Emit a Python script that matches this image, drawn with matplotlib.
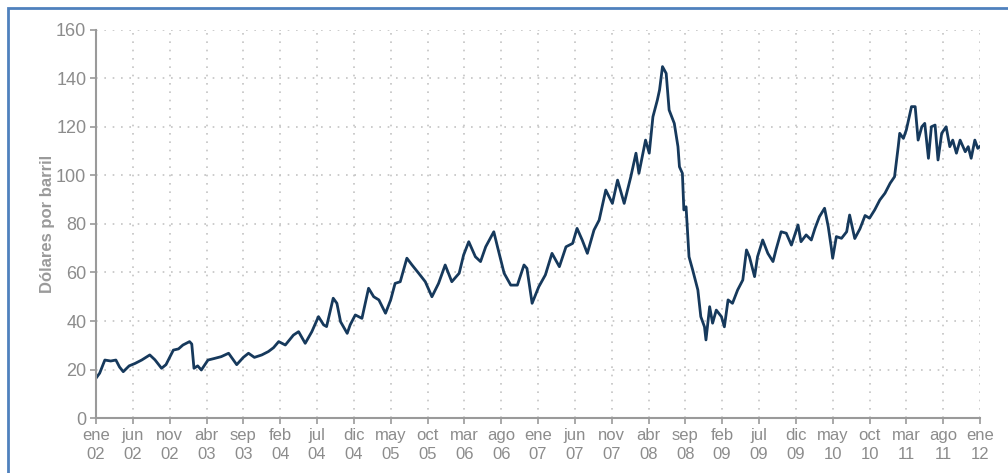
import matplotlib.pyplot as plt
from matplotlib.patches import Rectangle

# months since ene 2002
months = [0.0, 0.5, 1.2, 2.0, 2.7, 3.2, 3.7, 4.5, 5.3, 6.2, 7.3, 8.0, 8.9, 9.5, 10.5, 11.2, 11.8, 12.7, 13.0, 13.3,
          13.8, 14.3, 15.2, 16.0, 17.0, 18.0, 19.1, 20.0, 20.7, 21.5, 22.5, 23.4, 24.1, 24.8, 25.7,
          26.8, 27.5, 28.4, 29.3, 30.2, 30.9, 31.3, 32.2, 32.7, 33.2, 34.1, 34.5, 35.2, 36.1, 37.0, 37.7,
          38.4, 39.3, 40.0, 40.6, 41.3, 42.2, 42.9, 43.8, 44.7, 45.6, 46.5, 47.4, 48.3, 49.3, 49.9, 50.6,
          51.5, 52.2, 52.9, 54.0, 54.5, 55.4, 56.3, 57.2, 58.1, 58.5, 59.2, 60.1, 61.0, 61.9, 62.9, 63.8,
          64.7, 65.3, 66.0, 66.7, 67.6, 68.3, 69.2, 70.1, 70.8, 71.7, 72.6, 73.3, 73.7, 74.6, 75.1, 75.6,
          76.2, 76.5, 76.9, 77.4, 77.8, 78.5, 79.0, 79.2, 79.6, 79.8, 80.1, 80.5, 81.0, 81.7, 82.1, 82.6,
          82.8, 83.3, 83.7, 84.2, 84.9, 85.3, 85.8, 86.4, 87.1, 87.8, 88.3, 88.7, 89.4, 89.8, 90.5, 91.2,
          91.9, 92.3, 93.0, 93.7, 94.4, 95.3, 95.7, 96.4, 97.1, 97.6, 98.2, 98.9, 99.4, 99.8, 100.0, 100.5,
          101.2, 101.9, 102.3, 103.0, 103.7, 104.4, 105.0, 105.7, 106.4, 107.1, 107.8, 108.4, 108.9, 109.1,
          109.6, 110.0, 110.5, 110.7, 111.2, 111.6, 112.1, 112.5, 113.0, 113.4, 113.9, 114.3, 114.8, 115.4,
          115.9, 116.3, 116.8, 117.3, 118.0, 118.4, 118.8, 119.3, 119.7, 120.0]

prices = [16.4, 18.5, 23.9, 23.5, 23.9, 21.0, 19.1, 21.5, 22.5, 23.9, 26.0, 24.0, 20.5, 22.0, 28.0, 28.5, 30.1, 31.5, 30.5, 20.5,
          21.5, 19.8, 23.9, 24.5, 25.3, 26.7, 22.0, 25.0, 26.7, 25.0, 26.0, 27.4, 29.0, 31.5, 30.1,
          34.2, 35.6, 30.8, 35.6, 41.8, 38.4, 37.7, 49.4, 47.3, 39.7, 34.9, 38.4, 42.5, 41.1, 53.5, 50.0,
          48.7, 43.2, 48.7, 55.5, 56.2, 65.9, 63.1, 59.7, 56.2, 50.0, 55.5, 63.1, 56.2, 59.7, 67.2, 72.7,
          66.5, 64.5, 70.6, 76.8, 70.6, 59.7, 54.8, 54.8, 63.1, 61.7, 47.3, 54.1, 59.0, 67.9, 62.4, 70.6,
          72.0, 78.2, 73.4, 67.9, 77.5, 81.6, 94.0, 88.5, 98.1, 88.5, 99.5, 109.2, 100.9, 114.6, 109.2, 124.2,
          131.1, 135.3, 144.9, 142.1, 127.0, 121.5, 111.9, 103.6, 100.9, 85.8, 87.1, 66.5, 61.0, 52.8, 41.8, 37.6,
          32.2, 45.9, 39.1, 44.5, 41.8, 37.6, 48.7, 47.3, 52.8, 56.9, 69.3, 66.5, 58.3, 66.5, 73.4, 67.9,
          64.5, 69.3, 76.8, 76.2, 71.3, 79.6, 72.7, 75.5, 73.4, 78.2, 83.0, 86.5, 78.9, 70.6, 65.9, 74.8,
          74.1, 76.8, 83.7, 74.0, 78.0, 83.5, 82.4, 85.8, 89.9, 92.7, 96.8, 99.5, 111.9, 117.4,
          115.3, 118.8, 125.6, 128.4, 128.4, 114.6, 120.1, 121.5, 107.1, 120.1, 120.8, 106.4, 117.4, 120.1,
          111.9, 114.6, 109.2, 114.6, 109.8, 111.9, 107.1, 114.6, 111.2, 112.0]

tick_months = list(range(0, 121, 5))
tick_labels = ["ene\n02", "jun\n02", "nov\n02", "abr\n03", "sep\n03", "feb\n04", "jul\n04", "dic\n04",
               "may\n05", "oct\n05", "mar\n06", "ago\n06", "ene\n07", "jun\n07", "nov\n07", "abr\n08",
               "sep\n08", "feb\n09", "jul\n09", "dic\n09", "may\n10", "oct\n10", "mar\n11", "ago\n11", "ene\n12"]
y_ticks = [0, 20, 40, 60, 80, 100, 120, 140, 160]

plt.rcParams['font.family'] = ['Liberation Sans', 'DejaVu Sans']

fig = plt.figure(figsize=(10.08, 4.73), dpi=100)
fig.patches.append(Rectangle((8 / 1008, -0.1), 1.2, 1.1 - 8 / 473, transform=fig.transFigure,
                             fill=False, edgecolor='#4f81bd', linewidth=2))
ax = fig.add_axes([96 / 1008, 1 - 418 / 473, (980 - 96) / 1008, (418 - 30) / 473])

ax.plot(months, prices, color='#16395c', linewidth=2.0, solid_joinstyle='round')

ax.set_xlim(0, 120)
ax.set_ylim(0, 160)
ax.set_xticks(tick_months)
ax.set_xticklabels(tick_labels, linespacing=1.35)
ax.set_yticks(y_ticks)

ax.grid(True, color='#c4c4c4', linestyle=(0, (1, 4)), linewidth=1.2)
ax.set_axisbelow(True)
for side in ['top', 'right']:
    ax.spines[side].set_visible(False)
for side in ['left', 'bottom']:
    ax.spines[side].set_color('#9a9a9a')
    ax.spines[side].set_linewidth(1.5)

ax.tick_params(axis='both', colors='#9a9a9a', labelcolor='#8c8c8c', length=4, width=1.2, direction='out')
ax.tick_params(axis='x', labelsize=12, pad=3)
ax.tick_params(axis='y', labelsize=13, pad=3)

ax.set_ylabel("Dólares por barril", color='#9a9a9a', fontsize=12, fontweight='bold', labelpad=1)

fig.savefig("out.png", dpi=100)
